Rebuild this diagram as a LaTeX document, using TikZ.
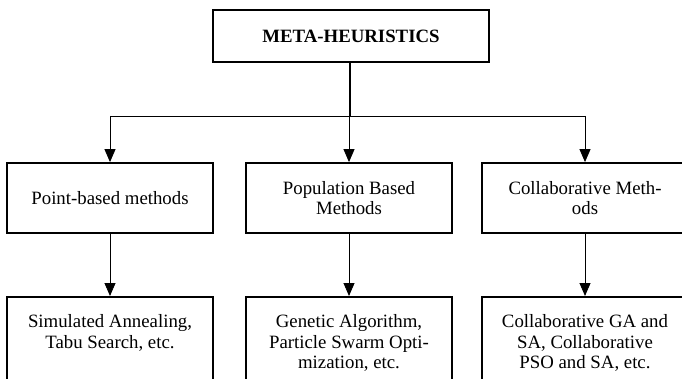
\documentclass[tikz,border=0pt]{standalone}
\usepackage{fontspec}
\setmainfont{Liberation Serif}
\usepackage{tikz}
\usetikzlibrary{arrows.meta}

\newcommand{\leaftext}[1]{\parbox[t]{200pt}{\centering #1\par}}

\begin{document}
\begin{tikzpicture}[x=1pt,y=-1pt,font=\fontsize{18.8pt}{20.5pt}\selectfont,
  box/.style={draw=black,line width=1.8pt,align=center,minimum width=206pt,minimum height=70pt,inner sep=0pt},
  leaf/.style={draw=black,line width=1.8pt,minimum width=206pt,text height=14pt,text depth=56pt,inner ysep=17pt,inner xsep=0pt,anchor=north},
  link/.style={draw=black,line width=0.9pt,-{Triangle[width=11pt,length=13pt]}}]
\useasboundingbox (0,0) rectangle (682,379);
\node[draw=black,line width=1.8pt,minimum width=276pt,minimum height=52pt] (meta) at (351,36) {\textbf{META-HEURISTICS}};
\node[box] (point) at (110,198) {Point-based methods};
\node[box] (pop) at (349,198) {Population Based\\Methods};
\node[box] (collab) at (585,198) {Collaborative Meth-\\ods};
\node[leaf] (sa) at (110,296) {\leaftext{Simulated Annealing,\\Tabu Search, etc.}};
\node[leaf] (ga) at (349,296) {\leaftext{Genetic Algorithm,\\Particle Swarm Opti-\\mization, etc.}};
\node[leaf] (cga) at (585,296) {\leaftext{Collaborative GA and\\SA, Collaborative\\PSO and SA, etc.}};
\coordinate (split) at (350,116);
\draw[line width=1.4pt] (meta.south -| split) -- (split);
\draw[line width=0.9pt] (point.north |- split) -- (collab.north |- split);
\draw[link] (point.north |- split) -- (point.north);
\draw[link] (split -| pop.north) -- (pop.north);
\draw[link] (collab.north |- split) -- (collab.north);
\draw[link] (point) -- (sa);
\draw[link] (pop) -- (ga);
\draw[link] (collab) -- (cga);
\end{tikzpicture}
\end{document}
